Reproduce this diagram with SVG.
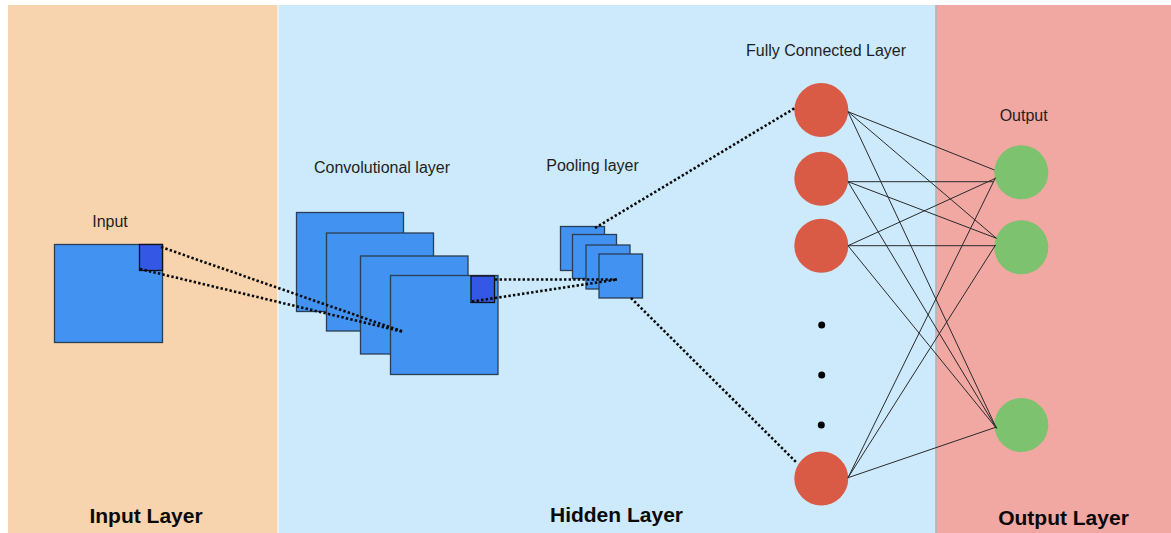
<svg xmlns="http://www.w3.org/2000/svg" width="1171" height="533" viewBox="0 0 1171 533">
  <style>
    .lbl { font-family: "Liberation Sans", Arial, sans-serif; font-size: 16px; fill: #1e1e1e; text-anchor: middle; }
    .title { font-family: "Liberation Sans", Arial, sans-serif; font-size: 21px; font-weight: bold; fill: #0a0a0a; text-anchor: middle; }
    .map { fill: #4192F1; stroke: #2c3e55; stroke-width: 1.3; }
    .patch { fill: #3557E6; stroke: #111; stroke-width: 1.3; }
    .dots { fill: none; stroke: #0a0a0a; stroke-width: 2.6; stroke-dasharray: 2.4 2.2; }
    .edge { stroke: #2a2a2a; stroke-width: 1; fill: none; }
    .fc { fill: #D95B45; }
    .out { fill: #7DC26F; }
  </style>

  <rect width="1171" height="533" fill="#ffffff"/>

  <!-- layer bands -->
  <g id="bands">
    <rect x="8" y="5" width="269.5" height="528" fill="#F7D4AD"/>
    <rect x="278.5" y="5" width="657" height="528" fill="#CCEAFB"/>
    <rect x="935.5" y="5" width="235.5" height="528" fill="#F1A8A2"/>
    <line x1="936" y1="5" x2="936" y2="533" stroke="#A9B6C6" stroke-width="1.5"/>
  </g>

  <!-- input image -->
  <g id="input">
    <text class="lbl" x="110" y="227.3">Input</text>
    <rect class="map" x="54.5" y="244.5" width="108" height="98"/>
    <rect class="patch" x="139.5" y="244.5" width="23" height="26"/>
  </g>

  <!-- convolution feature maps -->
  <g id="conv">
    <text class="lbl" x="382" y="172.5">Convolutional layer</text>
    <rect class="map" x="296.5" y="212.5" width="107" height="99"/>
    <rect class="map" x="326.5" y="233" width="107" height="98"/>
    <rect class="map" x="360.5" y="256" width="107.5" height="98"/>
    <rect class="map" x="390.5" y="275.5" width="107.5" height="99"/>
    <rect class="patch" x="471" y="276" width="23.5" height="26.5"/>
  </g>

  <!-- pooled maps -->
  <g id="pool">
    <text class="lbl" x="592.5" y="170.5">Pooling layer</text>
    <rect class="map" x="560.5" y="226.5" width="44" height="44"/>
    <rect class="map" x="572.5" y="234.5" width="44" height="44"/>
    <rect class="map" x="586" y="245" width="44" height="44"/>
    <rect class="map" x="599" y="254" width="43.5" height="44"/>
  </g>

  <!-- fully connected neurons -->
  <g id="fully-connected">
    <text class="lbl" x="826" y="55.5">Fully Connected Layer</text>
    <circle class="fc" cx="821.3" cy="110" r="27"/>
    <circle class="fc" cx="821.3" cy="178.7" r="27"/>
    <circle class="fc" cx="821.3" cy="245.7" r="27"/>
    <circle cx="821.7" cy="325" r="3.5" fill="#000"/>
    <circle cx="821.7" cy="375" r="3.5" fill="#000"/>
    <circle cx="821.3" cy="425" r="3.5" fill="#000"/>
    <circle class="fc" cx="821.3" cy="478.5" r="27"/>
  </g>

  <!-- output neurons -->
  <g id="output">
    <text class="lbl" x="1023.7" y="120.5">Output</text>
    <circle class="out" cx="1021.3" cy="172.3" r="27"/>
    <circle class="out" cx="1021.3" cy="247.3" r="27"/>
    <circle class="out" cx="1021.3" cy="425" r="27"/>
  </g>

  <!-- connectors, drawn over the maps -->
  <g id="connectors">
    <!-- receptive field projections -->
    <line class="dots" x1="161" y1="247" x2="404" y2="332"/>
    <line class="dots" x1="140" y1="269" x2="404" y2="332"/>
    <line class="dots" x1="495" y1="279.5" x2="617" y2="279.5"/>
    <line class="dots" x1="472" y1="301.5" x2="617" y2="279.5"/>
    <line class="dots" x1="595" y1="228" x2="795" y2="108"/>
    <line class="dots" x1="631" y1="298" x2="797" y2="463"/>

    <!-- fully connected weights -->
    <line class="edge" x1="848" y1="111.7" x2="994.5" y2="170"/>
    <line class="edge" x1="848" y1="111.7" x2="996.5" y2="238.3"/>
    <line class="edge" x1="848" y1="111.7" x2="996.5" y2="428.3"/>
    <line class="edge" x1="848" y1="181.7" x2="994" y2="181.7"/>
    <line class="edge" x1="848" y1="181.7" x2="996.5" y2="238.3"/>
    <line class="edge" x1="848" y1="181.7" x2="996.5" y2="428.3"/>
    <line class="edge" x1="848" y1="245.7" x2="995.5" y2="178.3"/>
    <line class="edge" x1="848" y1="245.7" x2="995.5" y2="245.7"/>
    <line class="edge" x1="848" y1="245.7" x2="996.5" y2="428.3"/>
    <line class="edge" x1="848" y1="477.7" x2="995.5" y2="177.7"/>
    <line class="edge" x1="848" y1="477.7" x2="995.5" y2="245"/>
    <line class="edge" x1="848" y1="477.7" x2="996.5" y2="427"/>
  </g>

  <!-- band titles -->
  <g id="titles">
    <text class="title" x="146" y="522.5">Input Layer</text>
    <text class="title" x="616.5" y="521.5">Hidden Layer</text>
    <text class="title" x="1063.5" y="524.5">Output Layer</text>
  </g>
</svg>
